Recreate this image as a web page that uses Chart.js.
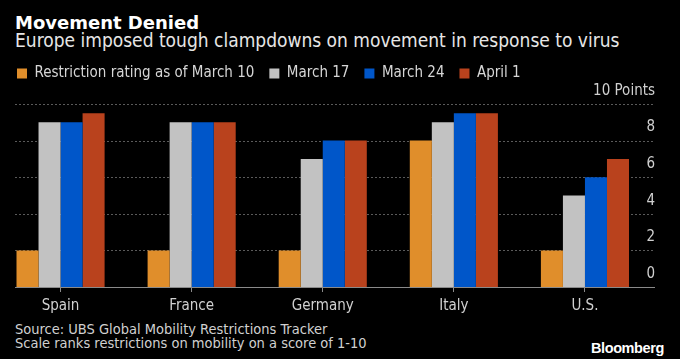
<!DOCTYPE html>
<html>
<head>
<meta charset="utf-8">
<script src="https://cdn.jsdelivr.net/npm/chart.js@4/dist/chart.umd.min.js"></script>
<style>
    body { margin: 0; background: #000; width: 680px; height: 359px; overflow: hidden; position: relative; font-family: "DejaVu Sans Condensed", "DejaVu Sans", sans-serif; }
    .txt { position: absolute; white-space: nowrap; }
    #title { left: 15px; top: 11px; font-size: 18px; line-height: 24px; font-weight: bold; color: #fff; font-family: "DejaVu Sans", sans-serif; }
    #subtitle { left: 15px; top: 28px; font-size: 19px; line-height: 24px; color: #e6e6e6; }
    #source { left: 15px; top: 322px; font-size: 14.5px; color: #d0d0d0; line-height: 14px; }
    #logo { left: 591px; top: 340px; font-size: 14.5px; line-height: 16px; font-weight: bold; color: #fff; font-family: "Liberation Sans", sans-serif; letter-spacing: -0.4px; }
    #wrap { position: absolute; left: -5px; top: 56px; width: 685px; height: 264px; }
</style>
</head>
<body>
<div class="txt" id="title">Movement Denied</div>
<div class="txt" id="subtitle">Europe imposed tough clampdowns on movement in response to virus</div>
<div id="wrap"><canvas id="chart"></canvas></div>
<div class="txt" id="source">Source: UBS Global Mobility Restrictions Tracker<br>Scale ranks restrictions on mobility on a score of 1-10</div>
<div class="txt" id="logo">Bloomberg</div>
<script>
const countries = ["Spain", "France", "Germany", "Italy", "U.S."];
const seriesNames = ["Restriction rating as of March 10", "March 17", "March 24", "April 1"];
const march10 = [2, 2, 2, 8, 2];
const march17 = [9, 9, 7, 9, 5];
const march24 = [9, 9, 8, 9.5, 6];
const april1 = [9.5, 9, 8, 9.5, 7];
const yTicks = [0, 2, 4, 6, 8, 10];

const colors = ["#e08e2b", "#c2c2c2", "#0056c9", "#b9421d"];
const allValues = [march10, march17, march24, april1];

const FONT = "'DejaVu Sans Condensed', 'DejaVu Sans', sans-serif";

// dotted grid + baseline, starting a bit right of the plot edge like the original
const gridPlugin = {
    id: "bbgGrid",
    afterInit(chart) {
        // leave more room between legend and plot
        const lg = chart.legend;
        const fit = lg.fit;
        lg.fit = function () {
            fit.call(this);
            this.height += 8;
        };
    },
    afterLayout(chart) {
        // nudge the legend to where the original has it
        chart.legend.left += 7;
        chart.legend.top -= 5;
    },
    beforeDatasetsDraw(chart) {
        const ctx = chart.ctx;
        const y = chart.scales.y;
        const x0 = 20, x1 = chart.chartArea.right + 4.5;
        ctx.save();
        ctx.strokeStyle = "#5a5a5a";
        ctx.lineWidth = 1;
        ctx.setLineDash([2, 2]);
        yTicks.forEach(v => {
            if (v === 0) return;
            const py = Math.round(y.getPixelForValue(v)) + 0.5;
            ctx.beginPath();
            ctx.moveTo(x0, py);
            ctx.lineTo(x1, py);
            ctx.stroke();
        });
        ctx.restore();
    },
    afterDatasetsDraw(chart) {
        const ctx = chart.ctx;
        const py = Math.round(chart.scales.y.getPixelForValue(0)) + 0.5;
        ctx.save();
        ctx.strokeStyle = "#8a8a8a";
        ctx.lineWidth = 1;
        ctx.beginPath();
        ctx.moveTo(20, py);
        ctx.lineTo(chart.chartArea.right + 4.5, py);
        ctx.stroke();
        ctx.restore();
    }
};

new Chart(document.getElementById("chart"), {
    type: "bar",
    data: {
        labels: countries,
        datasets: seriesNames.map((name, i) => ({
            label: name,
            data: allValues[i],
            backgroundColor: colors[i],
            borderWidth: 0,
            categoryPercentage: 0.672,
            barPercentage: 1.0
        }))
    },
    options: {
        responsive: true,
        maintainAspectRatio: false,
        animation: false,
        layout: { padding: { left: 0, right: 29.5, top: 0, bottom: 0 } },
        plugins: {
            legend: {
                position: "top",
                align: "start",
                labels: {
                    color: "#d6d6d6",
                    font: { family: FONT, size: 15 },
                    boxWidth: 10,
                    boxHeight: 10,
                    padding: 15
                }
            },
            tooltip: { enabled: false }
        },
        scales: {
            x: {
                offset: true,
                grid: { display: true, drawOnChartArea: false, drawTicks: true, tickLength: 5, offset: false, color: "#8a8a8a" },
                border: { display: false },
                ticks: { color: "#d0d0d0", font: { family: FONT, size: 15 }, padding: 5 }
            },
            y: {
                position: "right",
                min: 0,
                max: 10,
                afterBuildTicks: axis => { axis.ticks = yTicks.map(v => ({ value: v })); },
                afterFit: axis => { axis.width = 0; },
                grid: { display: false },
                border: { display: false },
                ticks: {
                    mirror: true,
                    padding: 4.5,
                    labelOffset: -13,
                    color: "#d0d0d0",
                    font: { family: FONT, size: 15 },
                    callback: v => v === 10 ? "10 Points" : v
                }
            }
        }
    },
    plugins: [gridPlugin]
});
</script>
</body>
</html>
